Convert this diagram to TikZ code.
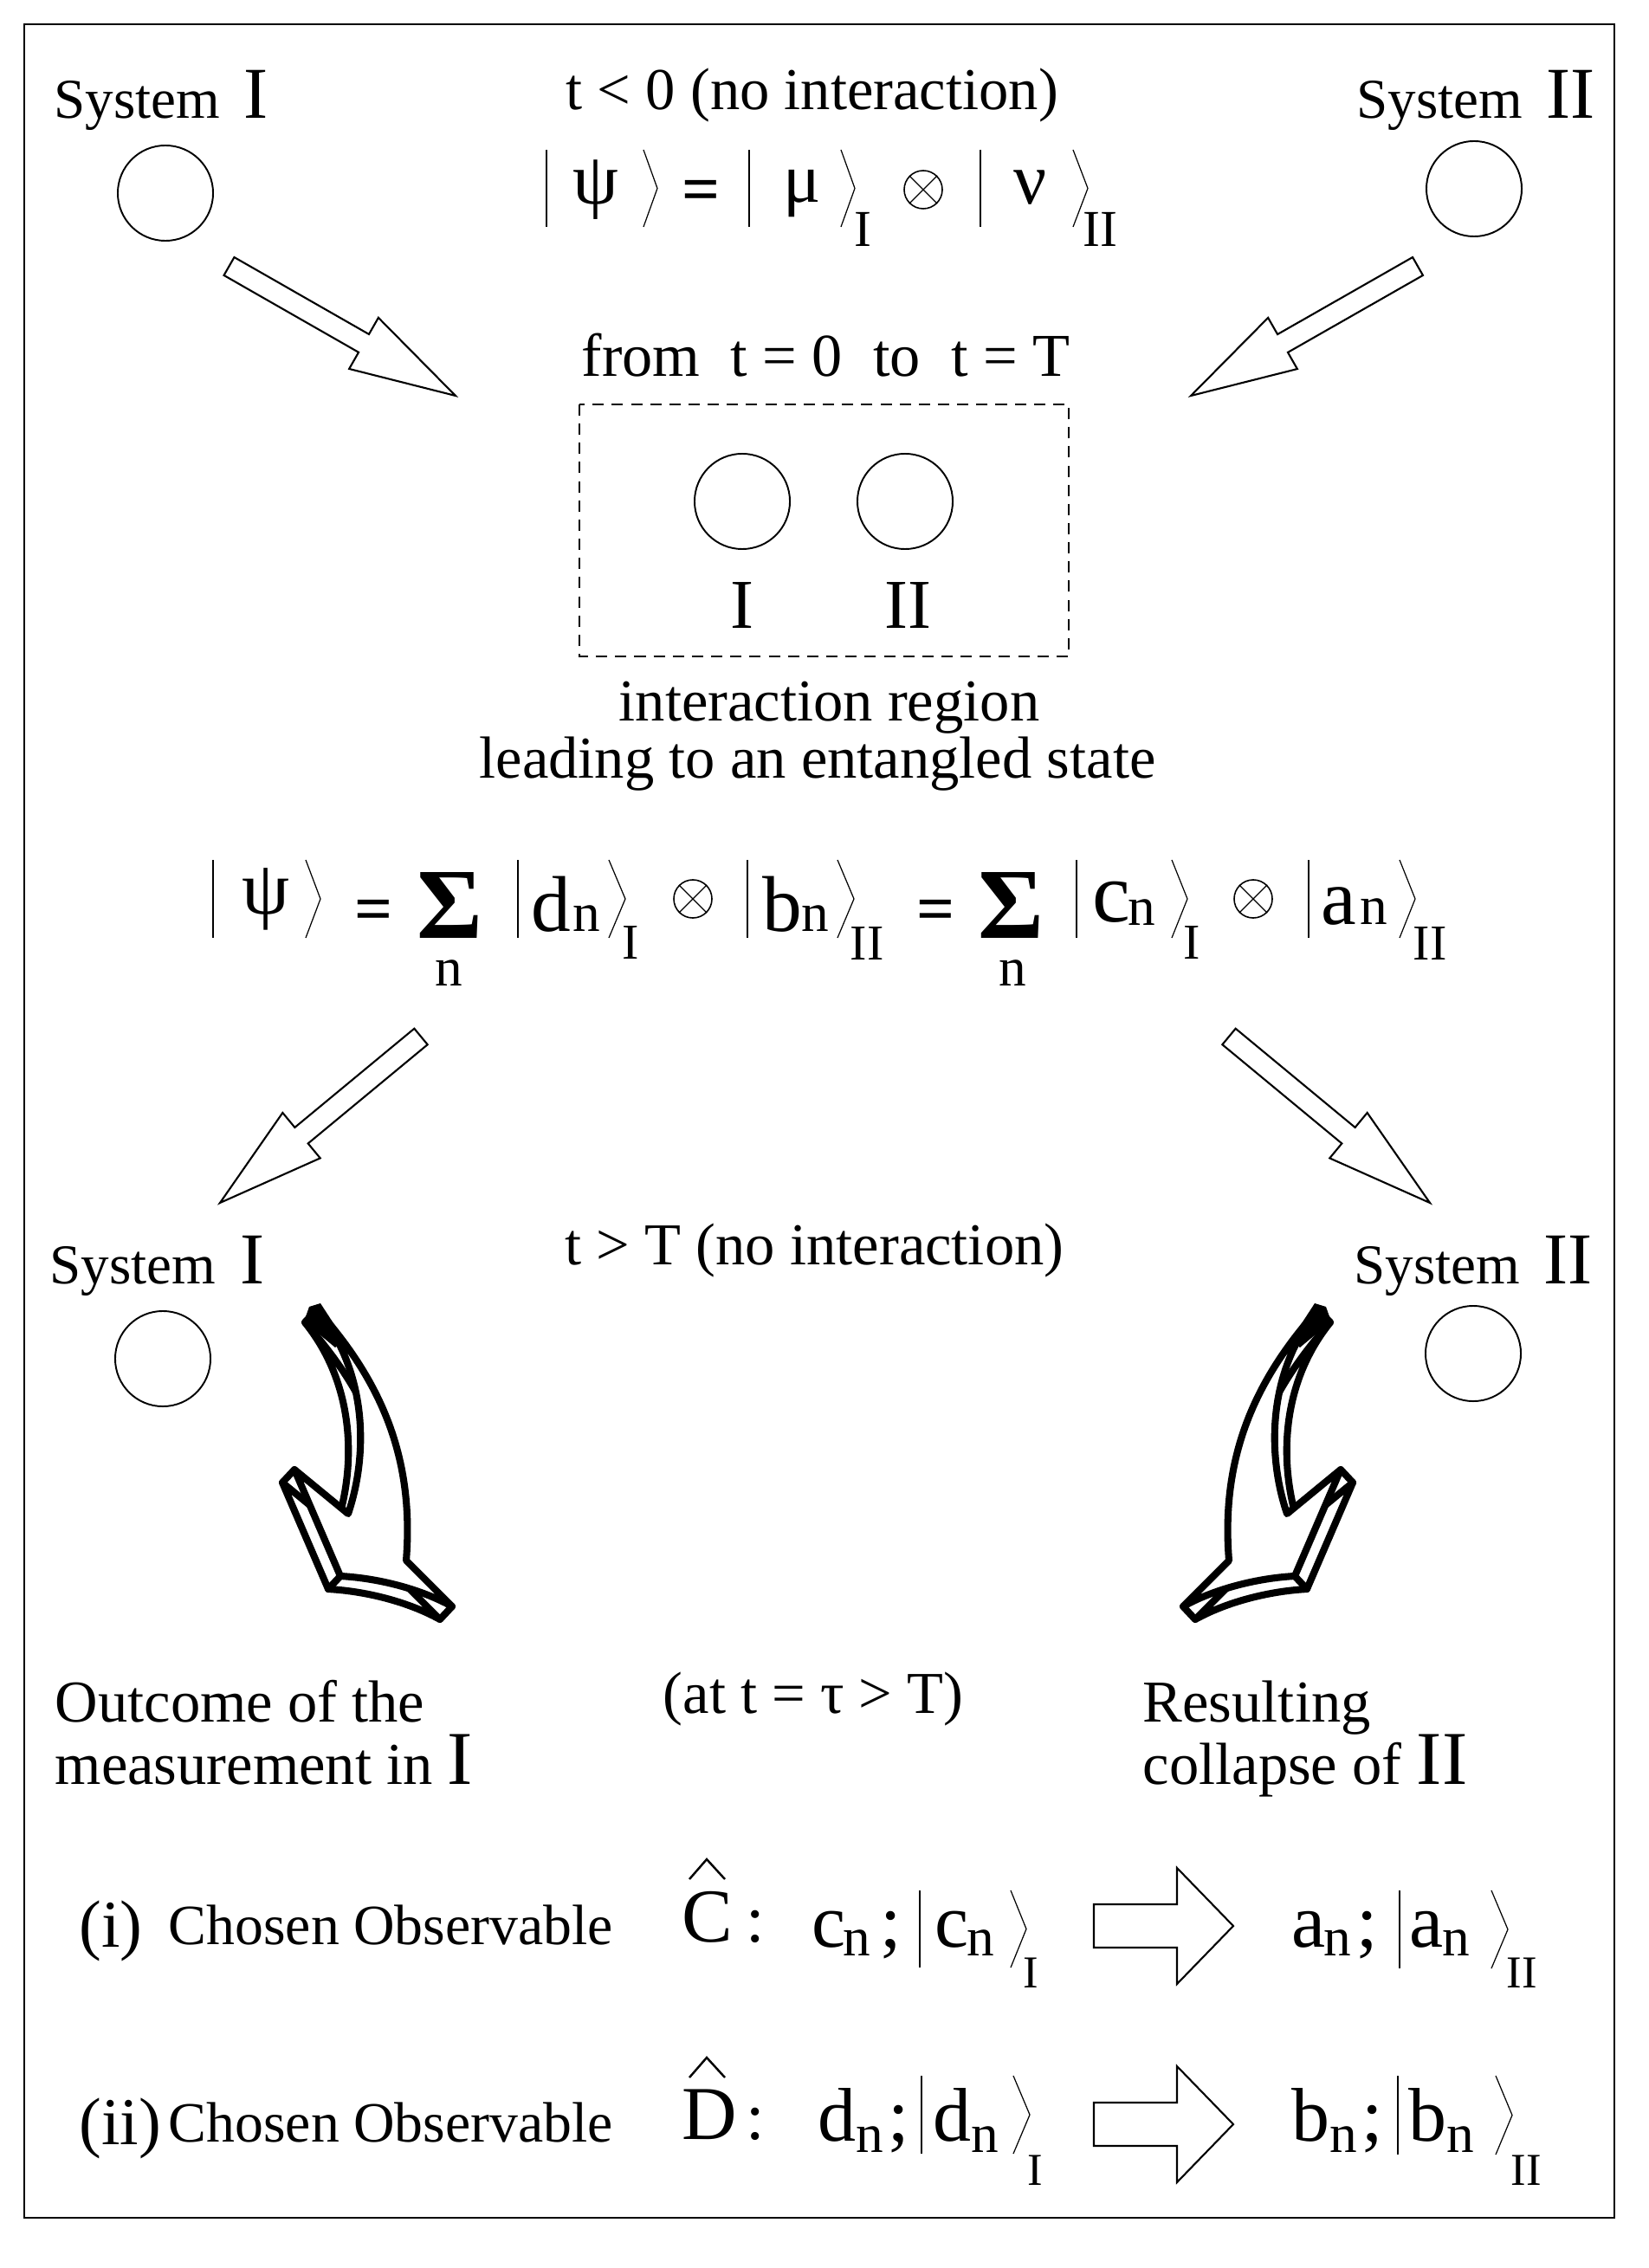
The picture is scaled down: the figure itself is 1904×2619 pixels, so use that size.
\documentclass[tikz,border=0pt]{standalone}
\usepackage{fontspec}
\setmainfont{Liberation Serif}
\usetikzlibrary{calc}
\newcommand\fs[1]{\fontsize{#1}{#1}\selectfont}
\newcommand\harrow[5]{%
  \path ($(#2)!#5!(#1)$) coordinate (hb);
  \draw[hollow] ($(#1)!#3!90:(#2)$) -- ($(hb)!#3!90:(#2)$) -- ($(hb)!#4!90:(#2)$) -- (#2) -- ($(hb)!#4!-90:(#2)$) -- ($(hb)!#3!-90:(#2)$) -- ($(#1)!#3!-90:(#2)$) -- cycle;}
\newcommand\ket[5]{%
  \draw[ketl] (#1,#3) -- (#1,#4);
  \draw[ketl] (#2,#3) -- ({#2+#5},{(#3+#4)/2}) -- (#2,#4);}
\newcommand\otim[3]{%
  \node[otimes] (#1) at (#2,#3) {};
  \draw[ketl] (#1.north east) -- (#1.south west) (#1.north west) -- (#1.south east);}
\newcommand\bentpath{(366,1512) .. controls (445,1600) and (478,1690) .. (469,1802) -- (522,1855) .. controls (480,1832) and (430,1822) .. (393,1820) -- (340,1697) -- (402,1748) .. controls (425,1680) and (425,1585) .. (366,1512) -- cycle}
\newcommand\bentarrow{%
  \draw[bent, shift={(-14,15)}] \bentpath;
  \draw[bentline] (522,1855) -- ++(-14,15) (393,1820) -- ++(-14,15) (340,1697) -- ++(-14,15) (366,1512) -- ++(-14,15);
  \draw[bent] \bentpath;
  \fill[line join=round] (357,1509) -- (370,1505) -- (398,1548) -- (387,1556) -- (351,1526) -- cycle;}
\begin{document}
\begin{tikzpicture}[x=0.01cm, y=-0.01cm,
  tx/.style={inner sep=0pt, anchor=base west},
  tc/.style={inner sep=0pt, anchor=base},
  ketl/.style={line width=0.35pt},
  hatl/.style={line width=0.7pt},
  sysc/.style={circle, draw, minimum size=1.1cm, inner sep=0pt, line width=0.55pt},
  hollow/.style={draw, fill=white, line width=0.6pt, line join=miter},
  bent/.style={draw, fill=white, line width=2.3pt, line join=round},
  bentline/.style={line width=2.3pt, line cap=round},
  otimes/.style={circle, draw, minimum size=0.44cm, inner sep=0pt, line width=0.45pt},
  dbox/.style={draw, dash pattern=on 3.7pt off 2.6pt, line width=0.5pt},
  framel/.style={line width=0.8pt}]
\useasboundingbox (0,0) rectangle (1904,2619);
\fill[white] (0,0) rectangle (1904,2619);
\draw[framel] (28,28) rectangle (1864,2561);

% ---- top
\node[tx] (sys1) at (62,137) {\fs{18.5}System\hspace{7.8pt}\fs{24}I};
\node[tx] (tlt) at (653,127) {\fs{19.5}t < 0 (no interaction)};
\node[tx] (sys2) at (1566,137) {\fs{18.5}System\hspace{7.8pt}\fs{24}II};
\node[sysc] (c1) at (191,223) {};
\node[sysc] (c2) at (1702,218) {};

% equation 1
\ket{631}{743}{173}{262}{16}
\node[tc] (psi1) at (688,236) {\fs{24}ψ};
\node[tc] (eqa) at (810,245) {\fs{22}\bfseries =};
\ket{865}{971}{173}{262}{16}
\node[tc] (mu) at (926,234) {\fs{23}μ};
\node[tc] (s1) at (996,285) {\fs{17}I};
\otim{ot1}{1066}{219}
\ket{1132}{1239}{173}{262}{17}
\node[tc] (nu) at (1190,236) {\fs{24}ν};
\node[tc] (s2) at (1270,285) {\fs{17}II};

% top hollow arrows
\coordinate (a1t) at (264.5,307.5); \coordinate (a1h) at (526,457);
\harrow{a1t}{a1h}{0.12cm}{0.34cm}{1.22cm}
\coordinate (a2t) at (1637,307.5); \coordinate (a2h) at (1375,457);
\harrow{a2t}{a2h}{0.12cm}{0.34cm}{1.22cm}

% ---- interaction region
\node[tx] (from) at (671,435) {\fs{20}from~~t = 0~~to~~t = T};
\draw[dbox] (669,467) rectangle (1234,758);
\node[sysc] (c3) at (857,579) {};
\node[sysc] (c4) at (1045,579) {};
\node[tc] (lI) at (857,726) {\fs{23}I};
\node[tc] (lII) at (1048,726) {\fs{23}II};
\node[tx] (ir) at (714,833) {\fs{19.5}interaction region};
\node[tc] (lead) at (944,898) {\fs{19.5}leading to an entangled state};

% equation 2
\ket{246}{353}{993}{1083}{17}
\node[tc] (psi2) at (307,1055) {\fs{25}ψ};
\node[tc] (eqb) at (432,1075) {\fs{22}\bfseries =};
\node[tc] (sum1) at (519,1083) {\fs{33}\bfseries Σ};
\node[tc] (n1) at (518,1138) {\fs{18}n};
\ket{598}{703}{993}{1083}{19}
\node[tx] (d1) at (613,1075) {\fs{26}d};
\node[tx] (d1n) at (661,1075) {\fs{18}n};
\node[tc] (s3) at (728,1107) {\fs{16.5}I};
\otim{ot2}{800}{1038}
\ket{863}{967}{993}{1083}{19}
\node[tx] (b1) at (880,1075) {\fs{26}b};
\node[tx] (b1n) at (925,1075) {\fs{18}n};
\node[tc] (s4) at (1001,1108) {\fs{16.5}II};
\node[tc] (eqc) at (1081,1075) {\fs{22}\bfseries =};
\node[tc] (sum2) at (1167,1083) {\fs{33}\bfseries Σ};
\node[tc] (n2) at (1169,1138) {\fs{18}n};
\ket{1243}{1353}{993}{1083}{18}
\node[tx] (c1t) at (1261,1064) {\fs{28}c};
\node[tx] (c1n) at (1302,1068) {\fs{18}n};
\node[tc] (s5) at (1376,1107) {\fs{16.5}I};
\otim{ot3}{1447}{1038}
\ket{1511}{1616}{993}{1083}{18}
\node[tx] (a1) at (1525,1067) {\fs{26}a};
\node[tx] (a1n) at (1570,1067) {\fs{18}n};
\node[tc] (s6) at (1651,1108) {\fs{16.5}II};

% lower hollow arrows
\coordinate (a3t) at (486,1197); \coordinate (a3h) at (254,1389);
\harrow{a3t}{a3h}{0.12cm}{0.34cm}{1.22cm}
\coordinate (a4t) at (1419,1197); \coordinate (a4h) at (1651,1389);
\harrow{a4t}{a4h}{0.12cm}{0.34cm}{1.22cm}

% ---- after interaction
\node[tx] (sys3) at (57,1482) {\fs{18.5}System\hspace{8pt}\fs{24}I};
\node[tx] (tgt) at (652,1460) {\fs{19.5}t > T (no interaction)};
\node[tx] (sys4) at (1563,1482) {\fs{18.5}System\hspace{7.8pt}\fs{24}II};
\node[sysc] (c5) at (188,1569) {};
\node[sysc] (c6) at (1701,1563) {};

% curved 3D arrows
\bentarrow
\begin{scope}[shift={(1888,0)}, xscale=-1]
\bentarrow
\end{scope}

% ---- measurement texts
\node[tx] (out1) at (63,1988) {\fs{19.5}Outcome of the};
\node[tx] (out2) at (63,2060) {\fs{19.5}measurement in {\fs{25}I}};
\node[tx] (attau) at (765,1978) {\fs{19.5}(at t = τ > T)};
\node[tx] (res1) at (1319,1988) {\fs{19.5}Resulting};
\node[tx] (res2) at (1319,2060) {\fs{19.5}collapse of {\fs{25}II}};

% ---- row (i)
\node[tx] (ri) at (91,2248) {\fs{22}(i)};
\node[tx] (co1) at (194,2245) {\fs{18.7}Chosen Observable};
\node[tx] (Cop) at (787,2242) {\fs{25}C};
\draw[hatl] (796,2170) -- (816,2147) -- (837,2170);
\node[tc] (col1) at (872,2242) {\fs{22}:};
\node[tx] (r1c) at (937,2248) {\fs{25}c};
\node[tx] (r1cn) at (973,2258) {\fs{18}n};
\node[tx] (r1sc) at (1016,2248) {\fs{25};};
\ket{1062}{1167}{2183}{2272}{18}
\node[tx] (r1c2) at (1079,2248) {\fs{25}c};
\node[tx] (r1cn2) at (1116,2258) {\fs{18}n};
\node[tc] (r1s1) at (1190,2295) {\fs{15}I};
\coordinate (r1t) at (1263,2224); \coordinate (r1h) at (1424,2224);
\harrow{r1t}{r1h}{0.25cm}{0.67cm}{0.65cm}
\node[tx] (r1a) at (1491,2248) {\fs{25}a};
\node[tx] (r1an) at (1528,2258) {\fs{18}n};
\node[tx] (r1sa) at (1566,2248) {\fs{25};};
\ket{1616}{1722}{2183}{2273}{19}
\node[tx] (r1a2) at (1627,2248) {\fs{25}a};
\node[tx] (r1an2) at (1665,2258) {\fs{18}n};
\node[tc] (r1s2) at (1757,2295) {\fs{15}II};

% ---- row (ii)
\node[tx] (rii) at (91,2476) {\fs{22}(ii)};
\node[tx] (co2) at (194,2473) {\fs{18.7}Chosen Observable};
\node[tx] (Dop) at (787,2470) {\fs{25}D};
\draw[hatl] (796,2399) -- (816,2376) -- (837,2399);
\node[tc] (col2) at (872,2470) {\fs{22}:};
\node[tx] (r2d) at (944,2472) {\fs{25}d};
\node[tx] (r2dn) at (988,2485) {\fs{18}n};
\node[tx] (r2sd) at (1025,2472) {\fs{25};};
\ket{1064}{1170}{2397}{2487}{19}
\node[tx] (r2d2) at (1077,2472) {\fs{25}d};
\node[tx] (r2dn2) at (1121,2485) {\fs{18}n};
\node[tc] (r2s1) at (1195,2523) {\fs{15}I};
\coordinate (r2t) at (1263,2453); \coordinate (r2h) at (1424,2453);
\harrow{r2t}{r2h}{0.25cm}{0.67cm}{0.65cm}
\node[tx] (r2b) at (1491,2472) {\fs{25}b};
\node[tx] (r2bn) at (1535,2485) {\fs{18}n};
\node[tx] (r2sb) at (1572,2472) {\fs{25};};
\ket{1614}{1727}{2397}{2488}{19}
\node[tx] (r2b2) at (1626,2472) {\fs{25}b};
\node[tx] (r2bn2) at (1670,2485) {\fs{18}n};
\node[tc] (r2s2) at (1762,2523) {\fs{15}II};
\end{tikzpicture}
\end{document}
